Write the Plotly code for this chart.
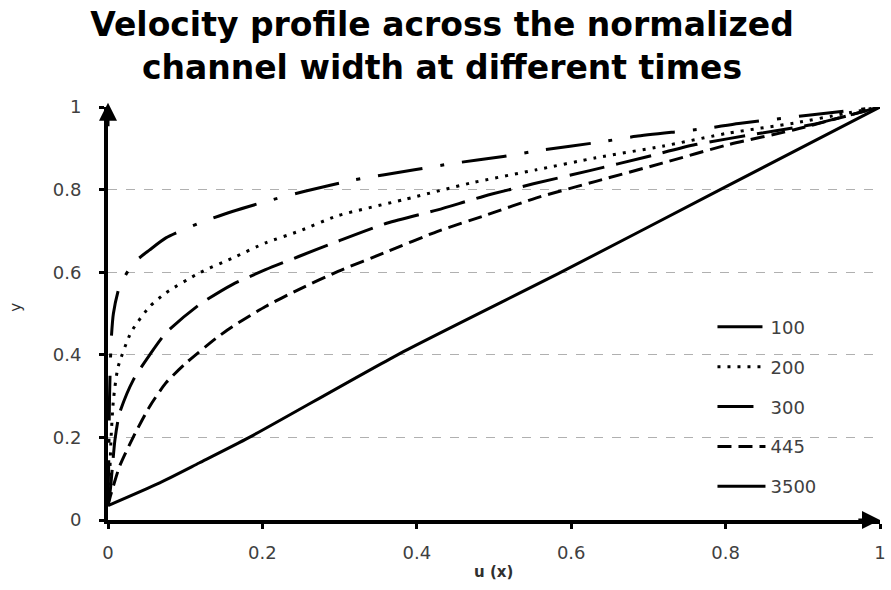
import plotly.graph_objects as go

# ---- data ----
series_names = ["100", "200", "300", "445", "3500"]

u100 = [0, 0.001, 0.002, 0.004, 0.007, 0.015, 0.033, 0.054, 0.075, 0.118, 0.161, 0.204, 0.255, 0.32,
        0.397, 0.445, 0.512, 0.56, 0.637, 0.684, 0.77, 0.817, 0.907, 1.0]
y100 = [0.035, 0.15, 0.3, 0.43, 0.50, 0.566, 0.622, 0.654, 0.683, 0.719, 0.747, 0.771, 0.796, 0.824,
        0.848, 0.863, 0.880, 0.895, 0.915, 0.929, 0.947, 0.96, 0.98, 1.0]

u200 = [0, 0.002, 0.004, 0.007, 0.013, 0.03, 0.054, 0.075, 0.118, 0.161, 0.204, 0.247, 0.298, 0.384,
        0.47, 0.555, 0.632, 0.718, 0.804, 0.889, 0.954, 1.0]
y200 = [0.035, 0.1, 0.2, 0.29, 0.37, 0.455, 0.517, 0.55, 0.598, 0.634, 0.671, 0.699, 0.737, 0.776,
        0.816, 0.848, 0.877, 0.905, 0.937, 0.961, 0.984, 1.0]

u300 = [0, 0.003, 0.009, 0.015, 0.033, 0.054, 0.075, 0.118, 0.161, 0.204, 0.247, 0.298, 0.362, 0.427,
        0.487, 0.551, 0.624, 0.697, 0.761, 0.847, 0.911, 1.0]
y300 = [0.035, 0.073, 0.194, 0.259, 0.34, 0.40, 0.453, 0.521, 0.570, 0.606, 0.638, 0.675, 0.719, 0.751,
        0.784, 0.814, 0.846, 0.879, 0.909, 0.937, 0.957, 1.0]

u445 = [0, 0.003, 0.015, 0.033, 0.054, 0.075, 0.101, 0.14, 0.161, 0.204, 0.247, 0.298, 0.362, 0.427,
        0.491, 0.555, 0.632, 0.718, 0.804, 0.889, 1.0]
y445 = [0.035, 0.057, 0.13, 0.202, 0.275, 0.332, 0.38, 0.44, 0.468, 0.517, 0.558, 0.602, 0.650, 0.699,
        0.739, 0.78, 0.82, 0.864, 0.909, 0.945, 1.0]

u3500 = [0, 0.067, 0.118, 0.183, 0.375, 0.587, 0.793, 1.0]
y3500 = [0.035, 0.09, 0.138, 0.2, 0.4, 0.6, 0.8, 1.0]

xs = [u100, u200, u300, u445, u3500]
ys = [y100, y200, y300, y445, y3500]
dashes = ["45px,18px,4px,18px", "3px,7px", "36px,12px", "14px,7px", "solid"]

x_ticks = [0, 0.2, 0.4, 0.6, 0.8, 1]
y_ticks = [0, 0.2, 0.4, 0.6, 0.8, 1]

title_text = "Velocity profile across the normalized<br>channel width at different times"
x_title = "u (x)"
y_title = "y"

fig = go.Figure()
for name, x, y, d in zip(series_names, xs, ys, dashes):
    fig.add_trace(go.Scatter(
        x=x, y=y, name=name, mode="lines", legendgroup=name,
        line=dict(color="black", width=3, dash=d, shape="spline", smoothing=0.6),
    ))

tick_font = dict(family="DejaVu Sans", size=18, color="#404040")
title_font = dict(family="DejaVu Sans", size=33, color="black", weight="bold")
axis_title_font = dict(family="DejaVu Sans", size=15, color="#303030")

fig.update_layout(
    width=891, height=590,
    margin=dict(l=108, r=5, t=107, b=70),
    paper_bgcolor="white", plot_bgcolor="white",
    title=dict(
        text=title_text,
        x=442 / 891, xref="container", xanchor="center",
        y=1 - 36 / 590, yref="container", yanchor="top",
        font=title_font,
    ),
    showlegend=True,
    legend=dict(
        x=0.783, y=0.512, xanchor="left", yanchor="top",
        bgcolor="rgba(0,0,0,0)", borderwidth=0,
        font=dict(family="DejaVu Sans", size=18, color="#404040"),
        traceorder="grouped", tracegroupgap=13.5, itemwidth=48,
    ),
    xaxis=dict(
        range=[0, 1], tickvals=x_ticks, ticktext=[f"{v:g}" for v in x_ticks],
        showgrid=False, zeroline=False,
        showline=True, linecolor="black", linewidth=4,
        ticks="outside", ticklen=5, tickwidth=3, tickcolor="black",
        tickfont=tick_font, ticklabelstandoff=8, ticklabeloverflow="allow",
    ),
    yaxis=dict(
        range=[0, 1], tickvals=y_ticks, ticktext=[f"{v:g}" for v in y_ticks],
        showgrid=True, gridcolor="#b0b0b0", gridwidth=1, griddash="dash",
        zeroline=False,
        showline=True, linecolor="black", linewidth=4,
        ticks="outside", ticklen=5, tickwidth=3, tickcolor="black",
        tickfont=tick_font, ticklabelstandoff=14, ticklabeloverflow="allow",
    ),
)

# axis titles
fig.add_annotation(text=x_title, xref="paper", yref="paper",
                   x=(496 - 108) / 778, y=(520 - 572) / 413, xanchor="center", yanchor="middle",
                   showarrow=False, font=dict(axis_title_font, weight="bold"))
fig.add_annotation(text=y_title, xref="paper", yref="paper", textangle=-90,
                   x=(15 - 108) / 778, y=(520 - 307) / 413, xanchor="center", yanchor="middle",
                   showarrow=False, font=axis_title_font)

# axis arrowheads
fig.add_annotation(x=1.0, y=0, ax=0.97, ay=0, xref="x", yref="y", axref="x", ayref="y",
                   showarrow=True, arrowhead=2, arrowsize=1.2, arrowwidth=3, arrowcolor="black",
                   text="")
fig.add_annotation(x=0, y=1.01, ax=0, ay=0.95, xref="x", yref="y", axref="x", ayref="y",
                   showarrow=True, arrowhead=2, arrowsize=1.2, arrowwidth=3, arrowcolor="black",
                   text="")

fig.write_html("out.html")
